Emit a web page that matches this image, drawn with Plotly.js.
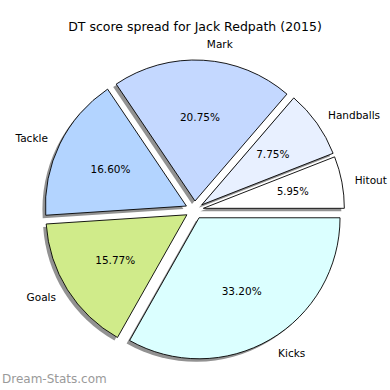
<!DOCTYPE html>
<html>
<head>
<meta charset="utf-8">
<script src="https://cdn.plot.ly/plotly-3.0.1.min.js"></script>
<style>html,body{margin:0;padding:0;background:#fff;}#chart{width:390px;height:390px;}</style>
</head>
<body>
<div id="chart"></div>
<script>
const labels = ['Hitout', 'Handballs', 'Mark', 'Tackle', 'Goals', 'Kicks'];
const values = [5.95, 7.75, 20.75, 16.60, 15.77, 33.20];
const colors = ['#ffffff', '#e8f0ff', '#c4d8ff', '#b3d4ff', '#d0eb8a', '#dbffff'];
const shadowColor = '#929292';

const FONT = 'DejaVu Sans, sans-serif';
const SIZE = 390;
// pie geometry (pixels)
const CX = 194.5, CY = 210, R = 141, EXPLODE = 9, SHADOW = 3;
const PCT_DIST = 0.6, LABEL_R = 151, MIN_TEXT_R = 108;

const total = values.reduce((a, b) => a + b, 0);
const ROT = 90 - 360 * values[0] / total; // first slice starts at 3 o'clock

function dom(cx, cy, r) {
  const h = r + EXPLODE;
  return {x: [(cx - h) / SIZE, (cx + h) / SIZE], y: [1 - (cy + h) / SIZE, 1 - (cy - h) / SIZE]};
}
function pieTrace(r, cx, cy, extra) {
  return Object.assign({
    type: 'pie', labels: labels, values: values, sort: false,
    direction: 'counterclockwise', rotation: ROT,
    pull: labels.map(() => EXPLODE / r),
    domain: dom(cx, cy, r), hoverinfo: 'none', showlegend: false
  }, extra);
}
const clear = labels.map(() => 'rgba(0,0,0,0)');

const traces = [];
// shadow
traces.push(pieTrace(R, CX - SHADOW, CY + SHADOW, {
  marker: {colors: labels.map(() => shadowColor), line: {width: 0}}, textinfo: 'none'
}));
// main slices
traces.push(pieTrace(R, CX, CY, {
  marker: {colors: colors, line: {color: '#000000', width: 0.9}}, textinfo: 'none'
}));
// percent labels, each centred near PCT_DIST of the radius along its bisector
values.forEach((v, i) => {
  const s = Math.sin(Math.PI * v / total);
  const rr = Math.max(PCT_DIST * R * (1 + s), MIN_TEXT_R);
  traces.push(pieTrace(rr, CX, CY, {
    marker: {colors: clear, line: {width: 0}},
    textinfo: 'none',
    texttemplate: labels.map((_, j) => j === i ? '%{value:.2f}%' : ''),
    textposition: 'inside', insidetextorientation: 'horizontal',
    textfont: {family: FONT, size: 10.5, color: '#000'}
  }));
});
// category labels outside
traces.push(pieTrace(LABEL_R, CX, CY, {
  marker: {colors: clear, line: {width: 0}},
  textinfo: 'none', texttemplate: '%{label}', textposition: 'outside',
  textfont: {family: FONT, size: 10.5, color: '#000'}
}));

const layout = {
  width: SIZE, height: SIZE,
  margin: {l: 0, r: 0, t: 0, b: 0},
  paper_bgcolor: '#ffffff',
  showlegend: false,
  title: {text: 'DT score spread for Jack Redpath (2015)', font: {family: FONT, size: 12.5, color: '#000'}, x: 0.5, xanchor: 'center', y: 0.932, yanchor: 'middle', yref: 'container'},
  annotations: [{
    text: 'Dream-Stats.com', xref: 'paper', yref: 'paper', x: 0, y: 1 - 379 / SIZE,
    xanchor: 'left', yanchor: 'middle', showarrow: false,
    font: {family: FONT, size: 12, color: '#9a9a9a'}
  }]
};

Plotly.newPlot('chart', traces, layout, {displayModeBar: false, staticPlot: true});
</script>
</body>
</html>
